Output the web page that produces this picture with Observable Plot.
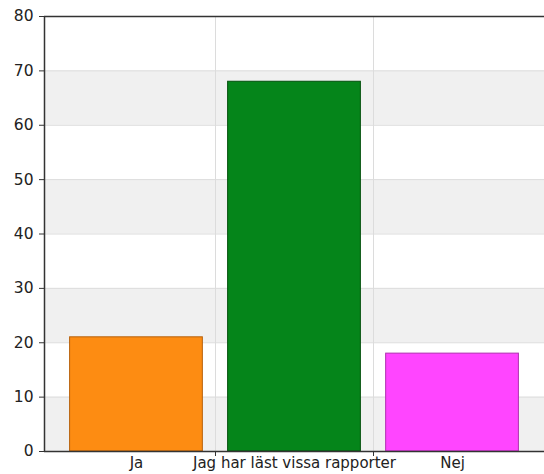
<!DOCTYPE html>
<html>
<head>
<meta charset="utf-8">
<script src="https://cdn.jsdelivr.net/npm/d3@7"></script>
<script src="https://cdn.jsdelivr.net/npm/@observablehq/plot@0.6"></script>
<style>
  html, body { margin: 0; padding: 0; background: #fff; }
  #chart svg { display: block; }
</style>
</head>
<body>
<div id="chart"></div>
<script>
const categories = ["Ja", "Jag har läst vissa rapporter", "Nej"];
const values = [21, 68, 18];
const colors = ["#fd8c12", "#05851a", "#ff45ff"];
const strokes = ["#b8600a", "#03500c", "#b030b0"];
const yTicks = [0, 10, 20, 30, 40, 50, 60, 70, 80];
const shadedBands = [0, 20, 40, 60];

const bars = categories.map((c, i) => ({ i, c, v: values[i], fill: colors[i], stroke: strokes[i] }));
const halfWidth = 0.42;
const bandEdges = categories.slice(1).map((_, i) => i + 0.5);

const chart = Plot.plot({
  width: 544,
  height: 474,
  marginLeft: 44,
  marginRight: 0,
  marginTop: 16,
  marginBottom: 23,
  style: { fontFamily: "DejaVu Sans, sans-serif", fontSize: "15.5px", color: "#222", background: "#fff" },
  x: { type: "linear", domain: [-0.582, categories.length - 1 + 0.582] },
  y: { domain: [0, 80] },
  marks: [
    Plot.rect(shadedBands, { y1: d => d, y2: d => d + 10, fill: "#f0f0f0" }),
    Plot.ruleY(yTicks.slice(1, -1), { stroke: "#dcdcdc", strokeWidth: 1 }),
    Plot.ruleX(bandEdges, { stroke: "#dcdcdc", strokeWidth: 1 }),
    Plot.rect(bars, {
      x1: d => d.i - halfWidth,
      x2: d => d.i + halfWidth,
      y1: 0,
      y2: "v",
      fill: "fill",
      stroke: "stroke",
      strokeWidth: 1
    }),
    Plot.axisY({ ticks: yTicks, tickSize: 5, tickPadding: 6, label: null, stroke: "#333", fontSize: 15.5 }),
    Plot.axisX({ ticks: bandEdges, tickSize: 5, tickFormat: () => "", label: null, stroke: "#333" }),
    Plot.axisX({ ticks: categories.map((_, i) => i), tickSize: 0, tickPadding: 6, tickFormat: i => categories[i], label: null, fontSize: 15 }),
    Plot.ruleY([80], { stroke: "#333", strokeWidth: 1.5 }),
    Plot.ruleY([0], { stroke: "#333", strokeWidth: 1.5 }),
    Plot.ruleX([-0.582], { stroke: "#333", strokeWidth: 1.5 })
  ]
});
document.getElementById("chart").appendChild(chart);
</script>
</body>
</html>
